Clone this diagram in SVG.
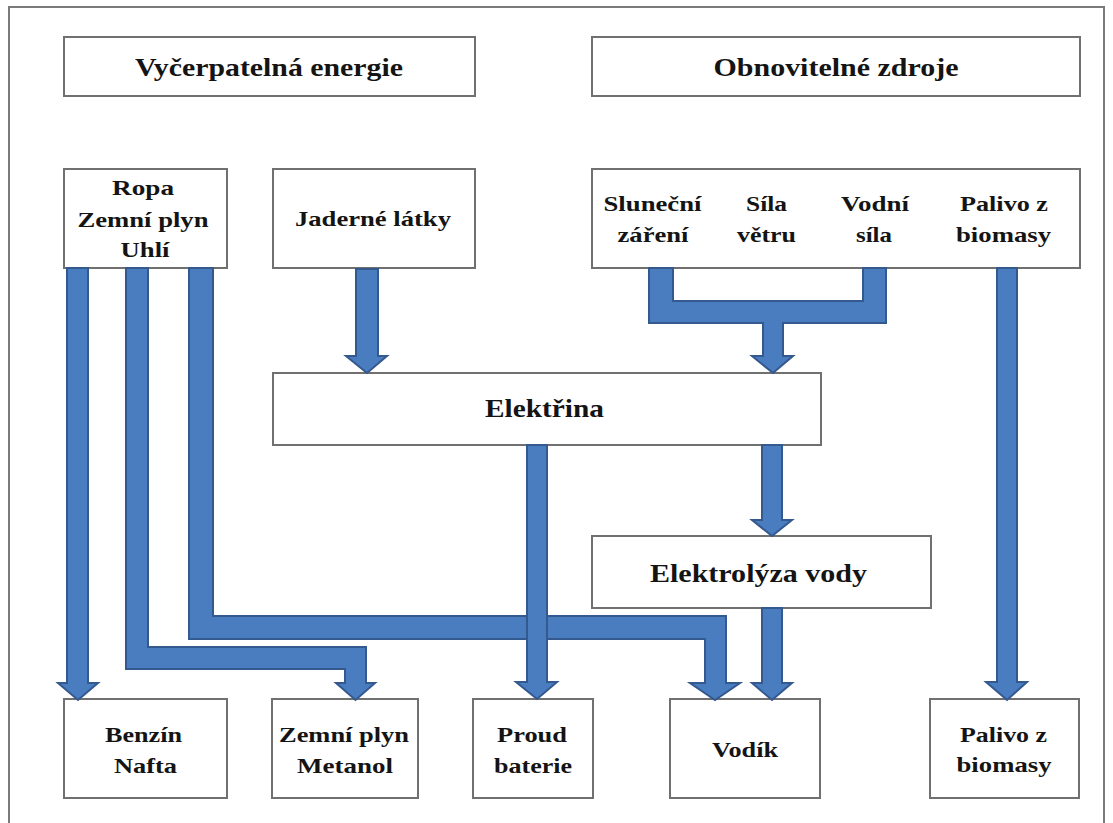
<svg xmlns="http://www.w3.org/2000/svg" width="1113" height="823" viewBox="0 0 1113 823">
<style>
.box{fill:#fff;stroke:#707070;stroke-width:2}
.t{font-family:"Liberation Serif","Times New Roman",serif;font-weight:bold;font-size:22px;fill:#141414;text-anchor:middle}
.h{font-size:25px}
.arr{fill:#4A7CC0;stroke:#34598F;stroke-width:2;stroke-linejoin:miter}
</style>
<rect x="9" y="7" width="1095" height="822" fill="#fff" stroke="#7a7a7a" stroke-width="2"/>
<g id="h1"><rect class="box" x="64" y="37" width="411" height="59"/><text class="t h" x="269" y="76" textLength="268" lengthAdjust="spacingAndGlyphs">Vyčerpatelná energie</text></g>
<g id="h2"><rect class="box" x="592" y="37" width="488" height="59"/><text class="t h" x="836" y="76" textLength="245" lengthAdjust="spacingAndGlyphs">Obnovitelné zdroje</text></g>
<g id="fossil"><rect class="box" x="64" y="169" width="163" height="99"/>
<text class="t" x="143" y="195" textLength="62" lengthAdjust="spacingAndGlyphs">Ropa</text>
<text class="t" x="143" y="227" textLength="131" lengthAdjust="spacingAndGlyphs">Zemní plyn</text>
<text class="t" x="145" y="257" textLength="49" lengthAdjust="spacingAndGlyphs">Uhlí</text></g>
<g id="nuclear"><rect class="box" x="273" y="169" width="202" height="99"/><text class="t" x="373" y="226" textLength="156" lengthAdjust="spacingAndGlyphs">Jaderné látky</text></g>
<g id="renew"><rect class="box" x="592" y="169" width="488" height="99"/>
<text class="t" x="652.5" y="211" textLength="98" lengthAdjust="spacingAndGlyphs">Sluneční</text>
<text class="t" x="653" y="242" textLength="71" lengthAdjust="spacingAndGlyphs">záření</text>
<text class="t" x="766.5" y="211" textLength="41" lengthAdjust="spacingAndGlyphs">Síla</text>
<text class="t" x="766.5" y="242" textLength="59" lengthAdjust="spacingAndGlyphs">větru</text>
<text class="t" x="875" y="211" textLength="68" lengthAdjust="spacingAndGlyphs">Vodní</text>
<text class="t" x="874" y="242" textLength="36" lengthAdjust="spacingAndGlyphs">síla</text>
<text class="t" x="1004" y="211" textLength="88" lengthAdjust="spacingAndGlyphs">Palivo z</text>
<text class="t" x="1003.5" y="242" textLength="95" lengthAdjust="spacingAndGlyphs">biomasy</text></g>
<g id="elektrina"><rect class="box" x="273" y="373" width="548" height="72"/><text class="t h" x="544.5" y="417" textLength="119" lengthAdjust="spacingAndGlyphs">Elektřina</text></g>
<g id="elektrolyza"><rect class="box" x="592" y="536" width="339" height="72"/><text class="t h" x="758.5" y="582" textLength="217" lengthAdjust="spacingAndGlyphs">Elektrolýza vody</text></g>
<g id="benzin"><rect class="box" x="64" y="699" width="163" height="99"/>
<text class="t" x="143.5" y="742" textLength="77" lengthAdjust="spacingAndGlyphs">Benzín</text>
<text class="t" x="145.5" y="773" textLength="63" lengthAdjust="spacingAndGlyphs">Nafta</text></g>
<g id="metanol"><rect class="box" x="272" y="699" width="146" height="99"/>
<text class="t" x="344" y="742" textLength="130" lengthAdjust="spacingAndGlyphs">Zemní plyn</text>
<text class="t" x="345" y="773" textLength="96" lengthAdjust="spacingAndGlyphs">Metanol</text></g>
<g id="proud"><rect class="box" x="473" y="699" width="120" height="99"/>
<text class="t" x="532" y="742" textLength="70" lengthAdjust="spacingAndGlyphs">Proud</text>
<text class="t" x="533" y="773" textLength="78" lengthAdjust="spacingAndGlyphs">baterie</text></g>
<g id="vodik"><rect class="box" x="670" y="699" width="150" height="99"/>
<text class="t" x="745" y="757" textLength="66" lengthAdjust="spacingAndGlyphs">Vodík</text></g>
<g id="biomasa"><rect class="box" x="930" y="699" width="149" height="99"/>
<text class="t" x="1003.5" y="742" textLength="87" lengthAdjust="spacingAndGlyphs">Palivo z</text>
<text class="t" x="1004" y="772" textLength="95" lengthAdjust="spacingAndGlyphs">biomasy</text></g>
<g id="connectors">
<path class="arr" d="M189,268 L213,268 L213,616 L726,616 L726,683 L740,683 L715,700 L690,683 L705,683 L705,639 L189,639 Z"/>
<path class="arr" d="M126,268 L148,268 L148,647 L366,647 L366,683 L375,683 L355.5,700 L336,683 L345,683 L345,669 L126,669 Z"/>
<path class="arr" d="M67,268 L88,268 L88,683 L98,683 L78,700 L58,683 L67,683 Z"/>
<path class="arr" d="M356,269 L378,269 L378,356 L387,356 L367,373 L346,356 L356,356 Z"/>
<path class="arr" d="M649,268 L673,268 L673,301 L863,301 L863,268 L886,268 L886,323 L783,323 L783,356 L793,356 L773,373 L752,356 L763,356 L763,323 L649,323 Z"/>
<path class="arr" d="M762,445 L782,445 L782,520 L792,520 L772,536 L752,520 L762,520 Z"/>
<path class="arr" d="M762,608 L782,608 L782,683 L792,683 L772,700 L752,683 L762,683 Z"/>
<path class="arr" d="M527,445 L547,445 L547,682 L557,682 L537,699 L516,682 L527,682 Z"/>
<path class="arr" d="M997,268 L1017,268 L1017,682 L1027,682 L1007,700 L986,682 L997,682 Z"/>
</g>
</svg>
